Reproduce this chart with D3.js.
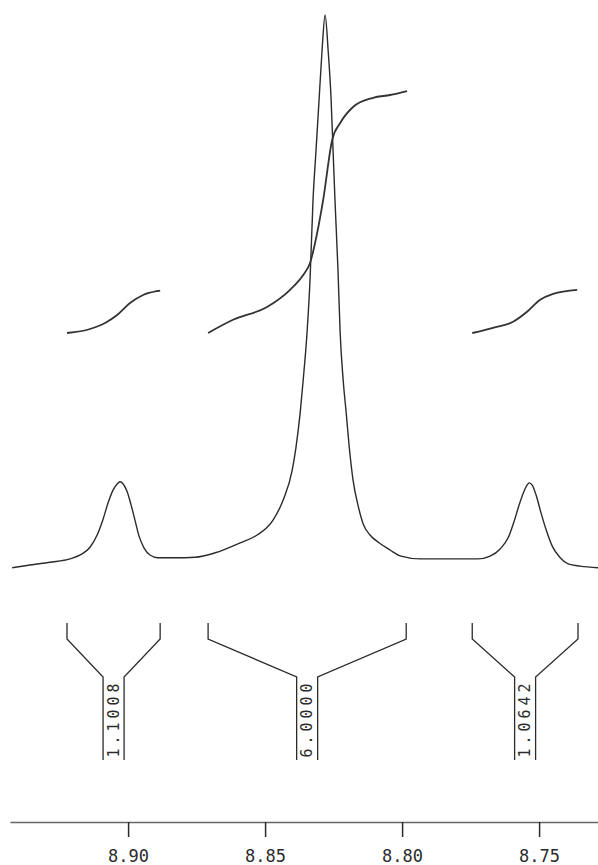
<!DOCTYPE html>
<html>
<head>
<meta charset="utf-8">
<script src="https://cdn.jsdelivr.net/npm/d3@7"></script>
<style>
  body { margin: 0; background: #fff; }
  svg { display: block; }
</style>
</head>
<body>
<div class="nmr"></div>
<script>
// spectrum trace (ppm, relative intensity)
const SPEC_PPM = [8.9423, 8.9358, 8.9285, 8.9212, 8.9168, 8.9139, 8.9113, 8.9091, 8.9073, 8.9055,
  8.9040, 8.9029, 8.9018, 8.9004, 8.8989, 8.8974, 8.8960, 8.8942, 8.8920, 8.8891,
  8.8828, 8.8755, 8.8682, 8.8591, 8.8529, 8.8471, 8.8434, 8.8401, 8.8387, 8.8372,
  8.8361, 8.8347, 8.8336, 8.8325, 8.8314, 8.8303, 8.8292, 8.8281,
  8.8270, 8.8259, 8.8252, 8.8245, 8.8234, 8.8226, 8.8215, 8.8204, 8.8193, 8.8179,
  8.8161, 8.8142, 8.8117, 8.8084, 8.8044, 8.8004, 8.7934, 8.7825, 8.7723, 8.7679, 8.7642,
  8.7613, 8.7591, 8.7573, 8.7555, 8.7544, 8.7536, 8.7525, 8.7511, 8.7493, 8.7474,
  8.7452, 8.7423, 8.7394, 8.7350, 8.7285];
const SPEC_INT = [0.4, 0.9, 1.4, 2.0, 2.9, 4.1, 6.3, 9.2, 12.1, 14.4,
  15.5, 15.9, 15.5, 14.2, 11.7, 8.8, 6.1, 4.0, 2.7, 2.2,
  2.2, 2.3, 3.1, 4.9, 6.3, 9.0, 12.6, 18.0, 22.2, 28.3,
  34.2, 42.7, 52.3, 66.7, 75.7, 84.7, 93.7, 100,
  93.7, 84.7, 75.7, 66.7, 54.1, 42.7, 34.2, 28.3, 22.2, 16.2,
  11.7, 8.3, 6.3, 4.9, 3.6, 2.5, 2.0, 2.0, 2.0, 2.5, 3.8,
  5.8, 8.8, 11.7, 14.2, 15.3, 15.7, 15.3, 13.5, 10.3, 7.2,
  4.3, 2.2, 1.1, 0.7, 0.4];

// integral traces (ppm, running integral)
const INT1_PPM = [8.9223, 8.9139, 8.9084, 8.9040, 8.8993, 8.8945, 8.8891, 8.8883];
const INT1_VAL = [0, 0.10, 0.25, 0.45, 0.75, 0.95, 1.05, 1.06];
const INT2_PPM = [8.8708, 8.8617, 8.8493, 8.8409, 8.8361, 8.8336, 8.8310, 8.8288, 8.8255, 8.8226, 8.8179, 8.8106, 8.8044, 8.7982];
const INT2_VAL = [0, 0.33, 0.65, 1.08, 1.45, 1.75, 2.5, 3.33, 4.83, 5.25, 5.65, 5.88, 5.95, 6.05];
const INT3_PPM = [8.7744, 8.7668, 8.7595, 8.7544, 8.7496, 8.7449, 8.7361];
const INT3_VAL = [0, 0.13, 0.28, 0.53, 0.83, 0.98, 1.08];

// integration regions and their values
const REGION_START = [8.9223, 8.8708, 8.7744];
const REGION_END = [8.8883, 8.7985, 8.7358];
const REGION_LABEL = ['1.1008', '6.0000', '1.0642'];

const TICKS = [8.90, 8.85, 8.80, 8.75];

var width = 598, height = 865;

var svg = d3.select('.nmr')
  .append('svg')
  .attr('width', width)
  .attr('height', height);

var x = d3.scaleLinear()
  .domain([8.9431, 8.7285])
  .range([10, 598]);

var y = d3.scaleLinear()
  .domain([0, 100])
  .range([570, 15]);

var yInt = d3.scaleLinear()
  .domain([0, 6])
  .range([333, 93]);

var ink = '#2b2b2b';

// ===================================== spectrum ==============================================
var spectrum = SPEC_PPM.map((p, i) => ({ppm: p, v: SPEC_INT[i]}));

var line = d3.line()
  .x(d => x(d.ppm))
  .y(d => y(d.v))
  .curve(d3.curveMonotoneX);

svg.append('path')
  .datum(spectrum)
  .attr('d', line)
  .attr('fill', 'none')
  .attr('stroke', ink)
  .attr('stroke-width', 1.4);

// ===================================== integrals ==============================================
var integrals = [[INT1_PPM, INT1_VAL], [INT2_PPM, INT2_VAL], [INT3_PPM, INT3_VAL]]
  .map(pair => pair[0].map((p, i) => ({ppm: p, v: pair[1][i]})));

var intLine = d3.line()
  .x(d => x(d.ppm))
  .y(d => yInt(d.v))
  .curve(d3.curveMonotoneX);

svg.selectAll('.integral')
  .data(integrals)
  .enter()
  .append('path')
  .attr('class', 'integral')
  .attr('d', intLine)
  .attr('fill', 'none')
  .attr('stroke', '#333')
  .attr('stroke-width', 1.8);

// brackets with the integral values underneath
var regions = REGION_START.map((s, i) => ({start: s, end: REGION_END[i], label: REGION_LABEL[i]}));
var bTop = 623, bKnee = 639, bJoin = 677, bBottom = 760, half = 10.5;

var br = svg.selectAll('.bracket')
  .data(regions)
  .enter()
  .append('g')
  .attr('class', 'bracket');

br.append('path')
  .attr('d', d => {
    var x1 = x(d.start), x2 = x(d.end), cx = (x1 + x2) / 2;
    return 'M' + x1 + ',' + bTop + 'L' + x1 + ',' + bKnee + 'L' + (cx - half) + ',' + bJoin + 'L' + (cx - half) + ',' + bBottom +
           'M' + x2 + ',' + bTop + 'L' + x2 + ',' + bKnee + 'L' + (cx + half) + ',' + bJoin + 'L' + (cx + half) + ',' + bBottom;
  })
  .attr('fill', 'none')
  .attr('stroke', ink)
  .attr('stroke-width', 1.3);

br.append('text')
  .attr('transform', d => 'translate(' + ((x(d.start) + x(d.end)) / 2) + ',' + ((bJoin + bBottom) / 2) + ') rotate(-90)')
  .attr('text-anchor', 'middle')
  .attr('dominant-baseline', 'central')
  .style('font-family', 'DejaVu Sans Mono, monospace')
  .style('font-size', '15px')
  .style('letter-spacing', '4px')
  .style('fill', ink)
  .text(d => d.label);

// ===================================== ppm axis ==============================================
var axis = svg.append('g')
  .attr('transform', 'translate(0,822)')
  .call(d3.axisBottom(x).tickValues(TICKS).tickFormat(d3.format('.2f')).tickSize(15).tickSizeOuter(0));

axis.select('.domain').attr('stroke', '#666').attr('stroke-width', 1.5);
axis.selectAll('.tick line').attr('stroke', ink).attr('stroke-width', 1.5);
axis.selectAll('.tick text')
  .attr('y', 28)
  .attr('dy', '0.71em')
  .style('font-family', 'DejaVu Sans Mono, monospace')
  .style('font-size', '17px')
  .style('fill', ink);
</script>
</body>
</html>
